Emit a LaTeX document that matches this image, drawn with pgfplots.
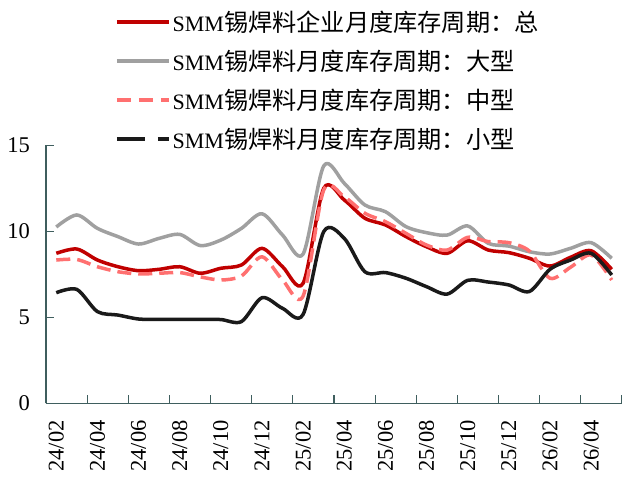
\documentclass[border=0pt]{standalone}
\usepackage{fontspec}
\setmainfont{Liberation Serif}
\newfontfamily\cjk{Noto Sans CJK SC}[Scale=1.1]
\usepackage{pgfplots}
\pgfplotsset{compat=1.18}
\usepackage{pgfplotstable}
\definecolor{cTot}{HTML}{C00000}
\definecolor{cBig}{HTML}{A0A0A0}
\definecolor{cMid}{HTML}{FF7070}
\definecolor{cSml}{HTML}{1A1A1A}
\definecolor{cAx}{HTML}{3F5E5E}

\pgfplotstableread{
i tot big mid sml
0 8.72 10.25 8.33 6.43
1 8.97 10.95 8.36 6.62
2 8.33 10.17 7.94 5.33
3 7.94 9.69 7.65 5.13
4 7.71 9.26 7.52 4.90
5 7.79 9.59 7.56 4.88
6 7.94 9.82 7.60 4.88
7 7.56 9.17 7.35 4.88
8 7.85 9.49 7.17 4.87
9 8.04 10.17 7.40 4.75
10 9.01 11.02 8.52 6.14
11 7.94 9.78 7.17 5.52
12 6.98 8.68 6.24 5.17
13 12.50 13.80 12.40 9.98
14 11.82 12.79 12.00 9.59
15 10.76 11.53 11.05 7.65
16 10.37 11.14 10.56 7.60
17 9.69 10.27 9.88 7.27
18 9.10 9.92 9.20 6.78
19 8.72 9.78 8.91 6.35
20 9.45 10.31 9.65 7.15
21 8.91 9.30 9.40 7.05
22 8.76 9.14 9.34 6.88
23 8.43 8.81 8.85 6.50
24 7.98 8.68 7.27 7.79
25 8.49 9.01 7.91 8.33
26 8.87 9.34 8.62 8.72
27 7.79 8.43 7.17 7.46
}\data

\begin{document}
\begin{tikzpicture}
\begin{axis}[
  scale only axis, width=576pt, height=258pt,
  at={(0,0)}, anchor=south west,
  xmin=-0.5, xmax=27.5, ymin=0, ymax=15,
  axis x line=bottom, axis y line=left,
  axis line style={cAx, line width=1.2pt, -},
  ytick={0,5,10,15},
  xtick={1.5,3.5,...,27.5}, xticklabels={},
  extra x ticks={0,2,...,26},
  extra x tick labels={24/02,24/04,24/06,24/08,24/10,24/12,25/02,25/04,25/06,25/08,25/10,25/12,26/02,26/04},
  extra x tick style={major tick length=0pt},
  tick align=inside, major tick length=8pt,
  tick style={cAx, line width=1.2pt},
  tick label style={font=\fontsize{22.5}{26}\selectfont},
  /pgf/number format/assume math mode=true,
  yticklabel style={anchor=east, inner sep=0pt, xshift=-16pt},
  xticklabel style={rotate=90, anchor=east, inner sep=0pt},
  xticklabel shift=17pt,
  legend style={draw=none, fill=none, at={(axis description cs:0.1146,1.537)}, anchor=north west,
    row sep=13pt, font=\fontsize{22}{26}\selectfont, cells={anchor=west}},
  legend image code/.code={\draw[#1] (0pt,0pt) -- (52pt,0pt);},
]
\addlegendimage{cTot, line width=3.5pt}
\addlegendimage{cBig, line width=3.5pt}
\addlegendimage{cMid, line width=3.5pt, dash pattern=on 14pt off 8pt}
\addlegendimage{cSml, line width=3.5pt, dash pattern=on 28pt off 13pt}
\legend{SMM{\cjk 锡焊料企业月度库存周期：总},SMM{\cjk 锡焊料月度库存周期：大型},SMM{\cjk 锡焊料月度库存周期：中型},SMM{\cjk 锡焊料月度库存周期：小型}}

\addplot[cTot, line width=3.5pt, line join=round, smooth, tension=0.5, forget plot] table[x=i,y=tot]{\data};
\addplot[cBig, line width=3.5pt, line join=round, smooth, tension=0.5, forget plot] table[x=i,y=big]{\data};
\addplot[cMid, line width=3.5pt, line join=round, dash pattern=on 14pt off 7pt, smooth, tension=0.5, forget plot] table[x=i,y=mid]{\data};
\addplot[cSml, line width=3.5pt, line join=round, smooth, tension=0.5, forget plot] table[x=i,y=sml]{\data};

\node[font=\fontsize{22}{26}\selectfont\cjk, anchor=center] at (axis description cs:-0.045,1.35) {天};
\end{axis}
\pgfresetboundingbox
\path[use as bounding box] (-46pt,-73.7pt) rectangle (576pt,403.3pt);
\end{tikzpicture}
\end{document}
